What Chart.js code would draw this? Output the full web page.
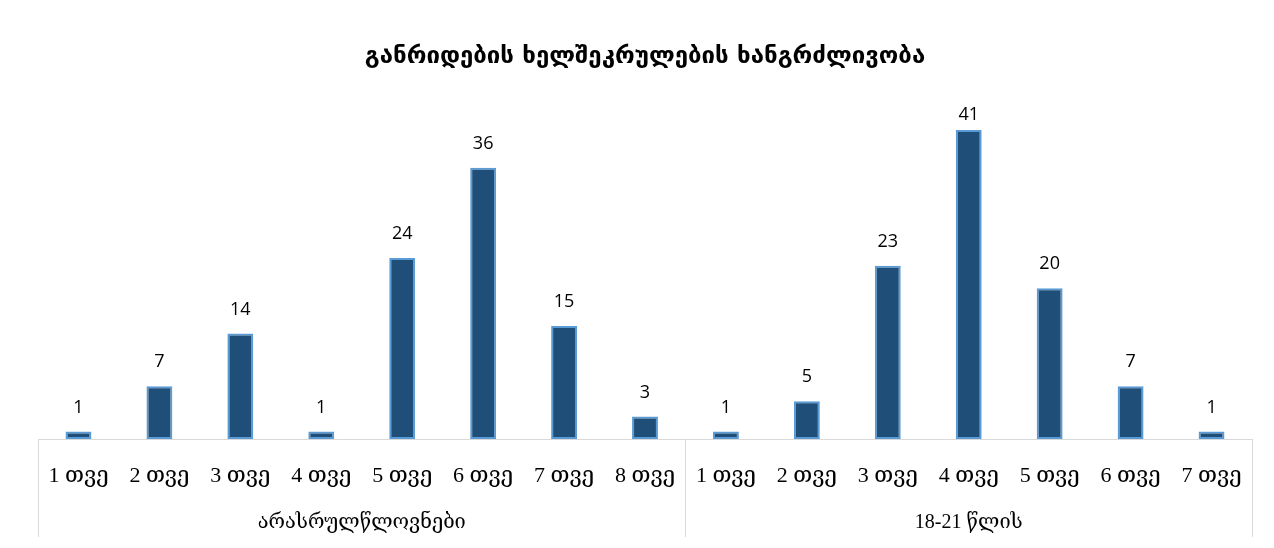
<!DOCTYPE html>
<html>
<head>
<meta charset="utf-8">
<script src="https://cdn.jsdelivr.net/npm/chart.js@4/dist/chart.umd.min.js"></script>
<style>
  html, body { margin: 0; padding: 0; background: #fff; }
  #wrap { width: 1274px; height: 548px; position: relative; }
</style>
</head>
<body>
<div id="wrap"><canvas id="myChart" width="1274" height="548"></canvas></div>
<script>
let months = ['1 თვე', '2 თვე', '3 თვე', '4 თვე', '5 თვე', '6 თვე', '7 თვე', '8 თვე',
              '1 თვე', '2 თვე', '3 თვე', '4 თვე', '5 თვე', '6 თვე', '7 თვე'];
let groupNames = ['არასრულწლოვნები', '18-21 წლის'];
let groupSizes = [8, 7];
let values = [1, 7, 14, 1, 24, 36, 15, 3, 1, 5, 23, 41, 20, 7, 1];
let titleText = 'განრიდების ხელშეკრულების ხანგრძლივობა';

let serifFont = '"Liberation Serif", "DejaVu Serif", serif';

// value labels above bars + group labels and separators under the axis
let extrasPlugin = {
    id: 'extras',
    afterDatasetsDraw(chart) {
        let ctx = chart.ctx;
        let meta = chart.getDatasetMeta(0);
        let top = chart.chartArea.top;
        ctx.save();
        ctx.fillStyle = '#000';
        ctx.font = '18px "Open Sans", "DejaVu Sans", sans-serif';
        ctx.textAlign = 'center';
        ctx.textBaseline = 'middle';
        meta.data.forEach(function (bar, i) {
            ctx.fillText(values[i], bar.x, Math.max(bar.y - 24, top + 15));
        });
        ctx.restore();
    },
    afterDraw(chart) {
        let ctx = chart.ctx;
        let xs = chart.scales.x;
        let area = chart.chartArea;
        let half = (xs.getPixelForValue(1) - xs.getPixelForValue(0)) / 2;
        ctx.save();
        ctx.strokeStyle = '#d9d9d9';
        ctx.lineWidth = 1;
        let start = 0;
        let edges = [xs.getPixelForValue(0) - half];
        for (let g = 0; g < groupSizes.length; g++) {
            let end = start + groupSizes[g] - 1;
            edges.push(xs.getPixelForValue(end) + half);
            let mid = (xs.getPixelForValue(start) + xs.getPixelForValue(end)) / 2;
            ctx.fillStyle = '#000';
            ctx.font = '20px ' + serifFont;
            ctx.textAlign = 'center';
            ctx.textBaseline = 'middle';
            ctx.fillText(groupNames[g], mid, 523);
            start = end + 1;
        }
        ctx.beginPath();
        ctx.moveTo(edges[0], area.bottom + 0.5);
        ctx.lineTo(edges[edges.length - 1], area.bottom + 0.5);
        edges.forEach(function (ex) {
            let px = Math.round(ex) + 0.5;
            ctx.moveTo(px, area.bottom);
            ctx.lineTo(px, 537);
        });
        ctx.stroke();
        ctx.restore();
    }
};

let ctx = document.getElementById('myChart').getContext('2d');
let myChart = new Chart(ctx, {
    type: 'bar',
    data: {
        labels: months,
        datasets: [{
            data: values,
            backgroundColor: '#1f4e79',
            borderColor: '#5b9bd5',
            borderWidth: 2,
            borderSkipped: false,
            barPercentage: 0.32,
            categoryPercentage: 1
        }]
    },
    options: {
        responsive: false,
        animation: false,
        layout: {
            padding: { left: 38, right: 22, top: 0, bottom: 0 }
        },
        plugins: {
            legend: { display: false },
            tooltip: { enabled: false },
            title: {
                display: true,
                text: titleText,
                color: '#000',
                font: { family: '"DejaVu Sans", sans-serif', size: 24, weight: 'bold', lineHeight: 1.2 },
                padding: { top: 42, bottom: 29 }
            }
        },
        scales: {
            x: {
                grid: { display: false, drawTicks: false },
                border: { display: false },
                ticks: {
                    color: '#000',
                    font: { family: serifFont, size: 22 },
                    padding: 24,
                    maxRotation: 0,
                    autoSkip: false
                },
                afterFit: function (scale) { scale.height = 109; }
            },
            y: {
                display: false,
                min: 0,
                max: 45
            }
        }
    },
    plugins: [extrasPlugin]
});
</script>
</body>
</html>
